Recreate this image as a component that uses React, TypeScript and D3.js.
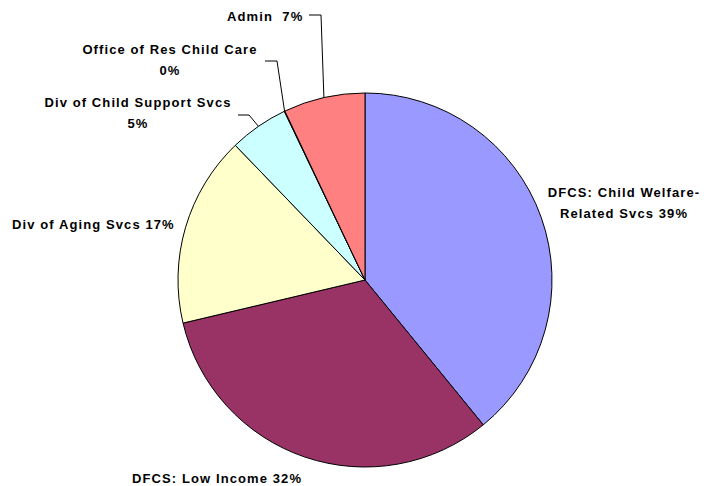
import React from "react";
import * as d3 from "d3";

const categories = [
  "DFCS: Child Welfare-Related Svcs",
  "DFCS: Low Income",
  "Div of Aging Svcs",
  "Div of Child Support Svcs",
  "Office of Res Child Care",
  "Admin",
];
const values = [39.1, 32.2, 16.5, 5.1, 0.05, 7.05];
const percentLabels = ["39%", "32%", "17%", "5%", "0%", "7%"];
const colors = ["#9999FF", "#993366", "#FFFFCC", "#CCFFFF", "#FFFFFF", "#FF8080"];

// label layout: lines of text, anchor, position, optional leader elbow
const labelLayout = [
  { lines: ["DFCS: Child Welfare-", "Related Svcs 39%"], x: 624, y: 197, anchor: "middle", leader: null },
  { lines: ["DFCS: Low Income 32%"], x: 132, y: 483, anchor: "start", leader: null },
  { lines: ["Div of Aging Svcs 17%"], x: 12, y: 229, anchor: "start", leader: null },
  { lines: ["Div of Child Support Svcs", "5%"], x: 138, y: 107, anchor: "middle", leader: [[238, 115], [249, 115]] },
  { lines: ["Office of Res Child Care", "0%"], x: 170, y: 54, anchor: "middle", leader: [[265, 61], [277, 61]] },
  { lines: ["Admin  7%"], x: 227, y: 21, anchor: "start", leader: [[309, 15], [321, 15]] },
];

const W = 708;
const H = 486;
const cx = 365;
const cy = 280;
const R = 187;

export default function App() {
  const pie = d3.pie<number>().sort(null).value((d) => d).startAngle(0).endAngle(2 * Math.PI);
  const arcs = pie(values);
  const arc = d3.arc<d3.PieArcDatum<number>>().innerRadius(0).outerRadius(R);
  const lineGen = d3.line();
  return (
    <svg
      width={W}
      height={H}
      style={{ position: "absolute", left: 0, top: 0, display: "block", background: "#fff" }}
      fontFamily="'Liberation Sans', Arial, sans-serif"
    >
      <g transform={`translate(${cx},${cy})`}>
        {arcs.map((a, i) => (
          <path key={categories[i]} d={arc(a) || ""} fill={colors[i]} stroke="#000" strokeWidth={1} />
        ))}
      </g>
      {labelLayout.map((l, i) => {
        const a = arcs[i];
        const mid = (a.startAngle + a.endAngle) / 2;
        const px = cx + R * Math.sin(mid);
        const py = cy - R * Math.cos(mid);
        return (
          <g key={i}>
            {l.leader && (
              <path
                d={lineGen([...(l.leader as [number, number][]), [px, py]]) || ""}
                fill="none"
                stroke="#000"
                strokeWidth={1}
              />
            )}
            <text
              x={l.x}
              y={l.y}
              textAnchor={l.anchor as any}
              fontSize={13}
              fontWeight="bold"
              letterSpacing={1.1}
              fill="#000"
              style={{ whiteSpace: "pre" }}
            >
              {l.lines.map((t, j) => (
                <tspan key={j} x={l.x} dy={j === 0 ? 0 : 21}>
                  {t}
                </tspan>
              ))}
            </text>
          </g>
        );
      })}
    </svg>
  );
}
